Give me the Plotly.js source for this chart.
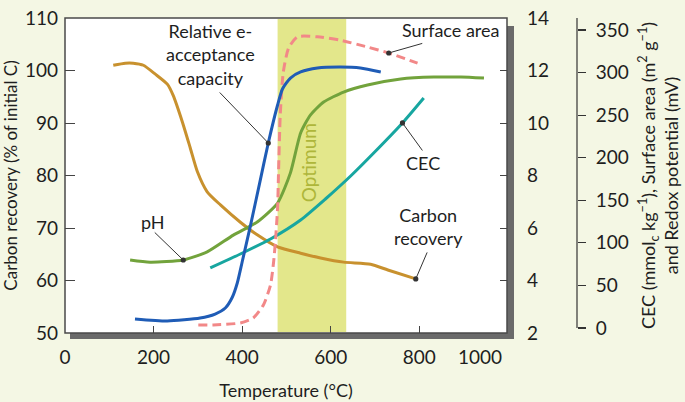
<!DOCTYPE html>
<html>
<head>
<meta charset="utf-8">
<script src="https://cdn.plot.ly/plotly-3.0.1.min.js"></script>
<style>
html,body{margin:0;padding:0;background:#F4F7E4;}
#chart{width:685px;height:402px;}
</style>
</head>
<body>
<div id="chart"></div>
<script>
// ---- data ----
const tempCarbon = [109,136,154,177,204,231,244,265,283,299,321,351,396,434,480,532,577,629,690,729,792];
const carbonRecovery = [101.0,101.4,101.4,101.0,99.3,97.4,95.3,90.2,85.2,80.7,76.9,74.4,71.1,68.7,66.4,65.2,64.3,63.5,63.1,62.0,60.3];

const tempPH = [147,192,267,321,380,434,480,509,532,554,584,629,683,758,833,894,946];
const pH = [4.78,4.70,4.78,5.09,5.73,6.23,6.95,8.10,9.62,10.30,10.80,11.18,11.45,11.68,11.75,11.75,11.71];

const tempEAcc = [158,231,305,339,362,378,389,400,419,439,459,480,491,509,532,570,622,667,713];
const eAcceptance = [10.6,8.2,11.7,16.4,23.5,36.4,52.8,77.5,120.9,169.0,217.3,261.9,280.7,293.6,300.7,305.4,306.5,305.4,300.7];

const tempSurface = [301,335,396,425,448,464,471,475,480,482,486,493,505,525,570,622,683,731,796];
const surfaceArea = [3.5,3.5,5.9,11.7,27,50.5,77.5,101,141,180,250,301,329,342,342,338,330,323,311];

const tempCEC = [328,396,464,532,588,645,697,762,810];
const cec = [70.5,86.9,104.5,126.8,151.5,178.5,205.5,240.8,270.1];

const optimumRange = [480, 635];
const xTicks = [0,200,400,600,800];
const lastTickLabel = '1000';
const leftTicks = [50,60,70,80,90,100,110];
const phTicks = [2,4,6,8,10,12,14];
const thirdTicks = [0,50,100,150,200,250,300,350];

// ---- styling ----
const FONT = 'Lato, "Open Sans", sans-serif';
const TXT = '#1e1e1e';
const cOrange = '#C8912E', cGreen = '#72A33C', cBlue = '#1F5CB6', cPink = '#F28888', cTeal = '#17A6A0';
const W = 535, XD = 442/535;
const SM = 0.6;

const traces = [
  {x: tempPH, y: pH, yaxis: 'y2', mode: 'lines', line: {color: cGreen, width: 3, shape: 'spline', smoothing: SM}, hoverinfo: 'skip'},
  {x: tempCEC, y: cec, yaxis: 'y3', mode: 'lines', line: {color: cTeal, width: 3, shape: 'spline', smoothing: SM}, hoverinfo: 'skip'},
  {x: tempSurface, y: surfaceArea, yaxis: 'y3', mode: 'lines', line: {color: cPink, width: 3, dash: '9px,5px', shape: 'spline', smoothing: SM}, hoverinfo: 'skip'},
  {x: tempEAcc, y: eAcceptance, yaxis: 'y3', mode: 'lines', line: {color: cBlue, width: 3, shape: 'spline', smoothing: SM}, hoverinfo: 'skip'},
  {x: tempCarbon, y: carbonRecovery, yaxis: 'y', mode: 'lines', line: {color: cOrange, width: 3, shape: 'spline', smoothing: SM}, hoverinfo: 'skip'}
];

function pointer(x, y, yref, ax, ay) {
  return {x: x, y: y, xref: 'x', yref: yref, text: '', showarrow: true, ax: ax, ay: ay,
    arrowhead: 6, arrowsize: 1.3, arrowwidth: 1, arrowcolor: '#333', standoff: 0};
}
function label(text, x, y) {
  return {x: x, y: y, xref: 'x', yref: 'y', text: text, showarrow: false,
    font: {family: FONT, size: 18, color: TXT}, align: 'center'};
}
const last = carbonRecovery.length - 1;
const annotations = [
  label('Relative e-<br>acceptance<br>capacity', 328, 103.1),
  label('Surface area', 871, 107.7),
  label('CEC', 808, 82.4),
  label('Carbon<br>recovery', 821, 70.2),
  label('pH', 199, 71.1),
  pointer(tempEAcc[10], eAcceptance[10], 'y3', -50, -52),
  pointer(tempSurface[17], surfaceArea[17], 'y3', 35, -10),
  pointer(tempCEC[7], cec[7], 'y3', 21, 29),
  pointer(tempCarbon[last], carbonRecovery[last], 'y', 12, -28),
  pointer(tempPH[2], pH[2], 'y2', -30, -29),
  {x: (optimumRange[0]+optimumRange[1])/2 - 7, y: 82.5, xref: 'x', yref: 'y', text: 'Optimum', textangle: -90,
   showarrow: false, font: {family: FONT, size: 19, color: '#AEB63A'}},
  {x: 998, y: 0, xref: 'x', yref: 'paper', text: lastTickLabel, showarrow: false, xanchor: 'right', yanchor: 'top',
   xshift: -3, yshift: -10, font: {family: FONT, size: 19, color: TXT}}
];

const px = p => (p - 65) / W;   // frame decoration helpers (paper units)
const py = p => (333 - p) / 315;
const shapes = [
  {type: 'rect', xref: 'paper', yref: 'paper', x0: px(70), x1: px(514), y0: py(339), y1: py(26), fillcolor: '#6A6A6A', line: {width: 0}, layer: 'below'},
  {type: 'rect', xref: 'paper', yref: 'paper', x0: 0, x1: XD, y0: 0, y1: 1, fillcolor: '#FFFFFF', line: {color: '#4a4a4a', width: 1.5}, layer: 'below'},
  {type: 'rect', xref: 'x', yref: 'paper', x0: optimumRange[0], x1: optimumRange[1], y0: 0.003, y1: 0.997, fillcolor: '#E3E78B', line: {width: 0}, layer: 'below'},
  {type: 'line', xref: 'paper', yref: 'y3', x0: px(577), x1: px(577), y0: 0, y1: 364, line: {color: '#333', width: 1.2}, layer: 'below'}
];

const layout = {
  width: 685, height: 402,
  margin: {l: 65, r: 685 - 65 - W, t: 18, b: 69},
  paper_bgcolor: '#F4F7E4', plot_bgcolor: 'rgba(0,0,0,0)',
  font: {family: FONT, color: TXT, size: 19},
  showlegend: false,
  xaxis: {domain: [0, XD], range: [0, 998], tickvals: xTicks, ticks: 'inside', ticklen: 7, tickcolor: '#444', tickwidth: 1,
    showgrid: false, zeroline: false, showline: false, tickfont: {size: 19}, ticklabelstandoff: 11,
    title: {text: 'Temperature (°C)', font: {size: 18}, standoff: 17}},
  yaxis: {range: [50, 110], tickvals: leftTicks, ticks: 'inside', ticklen: 10, tickcolor: '#444', tickwidth: 1,
    showgrid: false, zeroline: false, showline: false, tickfont: {size: 19}, ticklabelstandoff: 6,
    title: {text: 'Carbon recovery (% of initial C)', font: {size: 17}, standoff: 6}},
  yaxis2: {overlaying: 'y', side: 'right', anchor: 'x', range: [2, 14], tickvals: phTicks, ticks: 'inside', ticklen: 7,
    tickcolor: '#444', tickwidth: 1, showgrid: false, zeroline: false, showline: false, tickfont: {size: 19}, ticklabelstandoff: 19},
  yaxis3: {overlaying: 'y', side: 'right', anchor: 'free', position: px(577), range: [-5.9, 364.1], tickvals: thirdTicks,
    ticks: 'outside', ticklen: 8, tickcolor: '#333', tickwidth: 1.2, showgrid: false, zeroline: false, showline: false,
    tickfont: {size: 19}, ticklabelstandoff: 6,
    title: {text: 'CEC (mmol<sub>c</sub> kg<sup>−1</sup>), Surface area (m<sup>2</sup> g<sup>−1</sup>)<br>and Redox potential (mV)', font: {size: 18}, standoff: 14}},
  shapes: shapes,
  annotations: annotations
};

Plotly.newPlot('chart', traces, layout, {staticPlot: true, displayModeBar: false});
</script>
</body>
</html>
